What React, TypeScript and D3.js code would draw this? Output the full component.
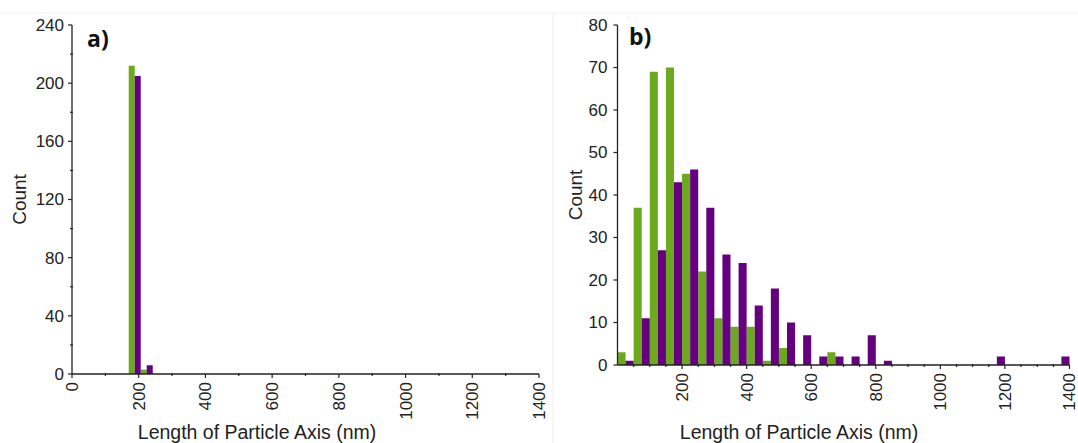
import React from "react";
import * as d3 from "d3";

// ---- Data ----
// Panel a: bin starts (nm), bin width 36 nm
const aBinStarts = [170, 206];
const aBinWidth = 36;
const aGreen = [212, 3];
const aPurple = [205, 6];

// Panel b: 50 nm bins from 0 to 1400
const bBinWidth = 50;
const bBinStarts = d3.range(0, 1400, 50);
const bGreen = [3, 37, 69, 70, 45, 22, 11, 9, 9, 1, 4, 0, 0, 3, 0, 0, 0, 0, 0, 0, 0, 0, 0, 0, 0, 0, 0, 0];
const bPurple = [1, 11, 27, 43, 46, 37, 26, 24, 14, 18, 10, 7, 2, 2, 2, 7, 1, 0, 0, 0, 0, 0, 0, 2, 0, 0, 0, 2];

const xTicksA = [0, 200, 400, 600, 800, 1000, 1200, 1400];
const xTicksB = [200, 400, 600, 800, 1000, 1200, 1400];
const yTicksA = [0, 40, 80, 120, 160, 200, 240];
const yTicksB = [0, 10, 20, 30, 40, 50, 60, 70, 80];

const GREEN = "#6ca91f";
const PURPLE = "#65007f";
const FONT = "Liberation Sans, Arial, sans-serif";

type PanelProps = {
  x0: number; x1: number; y0: number; y1: number;
  yMax: number; yTicks: number[]; yMinorStep: number | null;
  xTicks: number[]; xMinorStep: number;
  binStarts: number[]; binWidth: number; green: number[]; purple: number[];
  label: string; labelX: number; labelY: number;
  yLabelX: number; yTickGap: number; titleX: number;
};

function Panel(p: PanelProps) {
  const x = d3.scaleLinear().domain([0, 1400]).range([p.x0, p.x1]);
  const y = d3.scaleLinear().domain([0, p.yMax]).range([p.y0, p.y1]);
  const xMinor = d3.range(0, 1400 + 1, p.xMinorStep).filter((v) => v % 200 !== 0);
  const yMinor = p.yMinorStep ? d3.range(0, p.yMax, p.yMinorStep).filter((v) => !p.yTicks.includes(v)) : [];
  const half = p.binWidth / 2;
  return (
    <g>
      {p.binStarts.map((b, i) =>
        p.green[i] > 0 ? (
          <rect key={"g" + i} x={x(b)} y={y(p.green[i])} width={x(b + half) - x(b)} height={y(0) - y(p.green[i])} fill={GREEN} />
        ) : null
      )}
      {p.binStarts.map((b, i) =>
        p.purple[i] > 0 ? (
          <rect key={"p" + i} x={x(b + half)} y={y(p.purple[i])} width={x(b + p.binWidth) - x(b + half)} height={y(0) - y(p.purple[i])} fill={PURPLE} />
        ) : null
      )}
      {/* axes */}
      <line x1={p.x0} x2={p.x0} y1={p.y0} y2={p.y1} stroke="#222" strokeWidth={1.3} />
      <line x1={p.x0} x2={p.x1} y1={p.y0} y2={p.y0} stroke="#222" strokeWidth={1.3} />
      {p.yTicks.map((t) => (
        <g key={"yt" + t}>
          <line x1={p.x0 - 4} x2={p.x0} y1={y(t)} y2={y(t)} stroke="#222" strokeWidth={1.2} />
          <text x={p.x0 - p.yTickGap} y={y(t)} dy="0.35em" textAnchor="end" fontSize={17} fontFamily={FONT} fill="#222">{t}</text>
        </g>
      ))}
      {yMinor.map((t) => (
        <line key={"ym" + t} x1={p.x0 - 2} x2={p.x0 + 1} y1={y(t)} y2={y(t)} stroke="#222" strokeWidth={1.2} />
      ))}
      {p.xTicks.map((t) => (
        <g key={"xt" + t}>
          <line x1={x(t)} x2={x(t)} y1={p.y0} y2={p.y0 + 4} stroke="#222" strokeWidth={1.2} />
          <text transform={`translate(${x(t)},${p.y0 + 8}) rotate(-90)`} dy="0.35em" textAnchor="end" fontSize={17} fontFamily={FONT} fill="#222">{t}</text>
        </g>
      ))}
      {xMinor.map((t) => (
        <line key={"xm" + t} x1={x(t)} x2={x(t)} y1={p.y0 - 1} y2={p.y0 + 2} stroke="#222" strokeWidth={1.2} />
      ))}
      <text x={p.titleX} y={439} textAnchor="middle" fontSize={19.5} fontFamily={FONT} fill="#222">
        Length of Particle Axis (nm)
      </text>
      <text transform={`translate(${p.yLabelX},${(p.y0 + p.y1) / 2}) rotate(-90)`} textAnchor="middle" dy="0.35em" fontSize={19} fontFamily={FONT} fill="#222">Count</text>
      <text x={p.labelX} y={p.labelY} fontSize={23} fontWeight="bold" fontFamily="Open Sans, Liberation Sans, sans-serif" fill="#111">{p.label}</text>
    </g>
  );
}

export default function App() {
  return (
    <svg width={1078} height={443} style={{ position: "absolute", left: 0, top: 0, background: "#fff" }}>
      <rect x={0} y={0} width={1078} height={443} fill="#fff" />
      <line x1={0} x2={1078} y1={13} y2={13} stroke="#eeeeee" strokeWidth={1} />
      <line x1={553} x2={553} y1={13} y2={443} stroke="#eeeeee" strokeWidth={1} />
      <Panel
        x0={72} x1={539} y0={374} y1={25} yMax={240} yTicks={yTicksA} yMinorStep={20}
        xTicks={xTicksA} xMinorStep={100}
        binStarts={aBinStarts} binWidth={aBinWidth} green={aGreen} purple={aPurple}
        label="a)" labelX={87} labelY={47} yLabelX={19} yTickGap={8} titleX={257}
      />
      <Panel
        x0={617.5} x1={1069.5} y0={365} y1={25} yMax={80} yTicks={yTicksB} yMinorStep={null}
        xTicks={xTicksB} xMinorStep={50}
        binStarts={bBinStarts} binWidth={bBinWidth} green={bGreen} purple={bPurple}
        label="b)" labelX={629} labelY={45} yLabelX={575} yTickGap={10} titleX={799}
      />
    </svg>
  );
}
